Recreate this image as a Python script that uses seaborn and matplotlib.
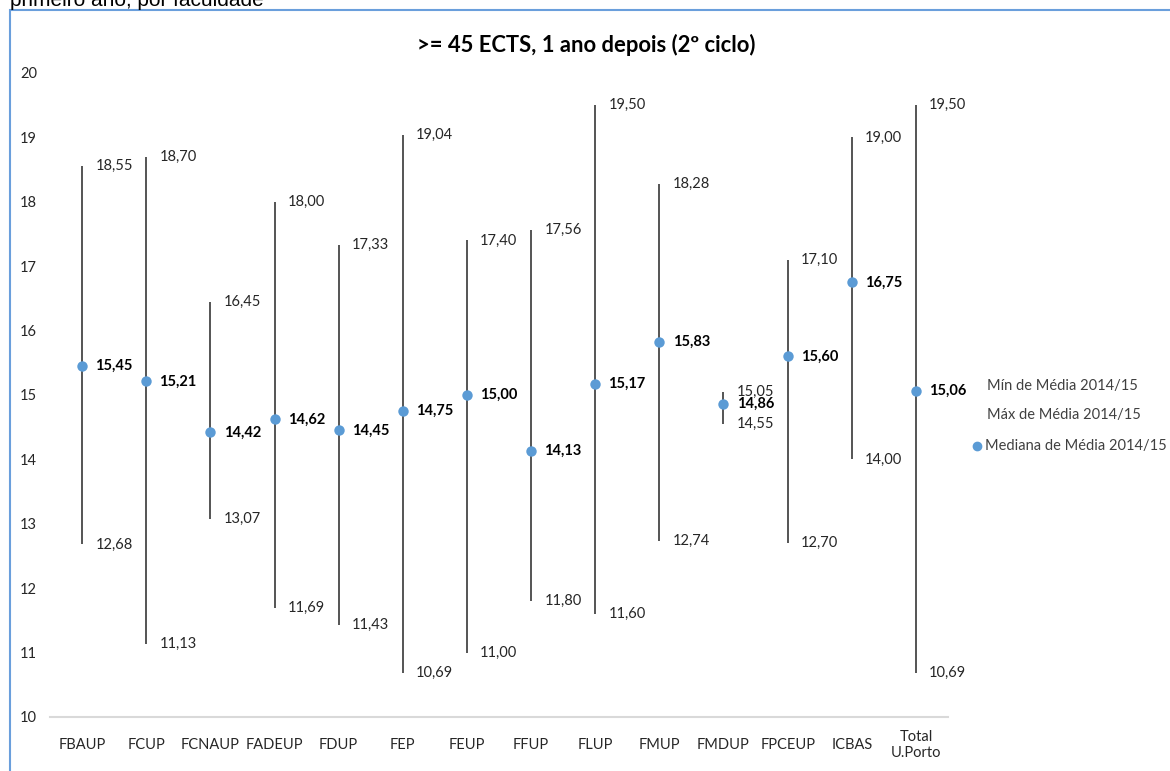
import matplotlib
matplotlib.use("Agg")
import matplotlib.pyplot as plt
import seaborn as sns
import pandas as pd
import numpy as np
from matplotlib.patches import Rectangle

categories = ["FBAUP", "FCUP", "FCNAUP", "FADEUP", "FDUP", "FEP", "FEUP", "FFUP",
              "FLUP", "FMUP", "FMDUP", "FPCEUP", "ICBAS", "Total\nU.Porto"]
max_vals = [18.55, 18.70, 16.45, 18.00, 17.33, 19.04, 17.40, 17.56, 19.50, 18.28, 15.05, 17.10, 19.00, 19.50]
min_vals = [12.68, 11.13, 13.07, 11.69, 11.43, 10.69, 11.00, 11.80, 11.60, 12.74, 14.55, 12.70, 14.00, 10.69]
med_vals = [15.45, 15.21, 14.42, 14.62, 14.45, 14.75, 15.00, 14.13, 15.17, 15.83, 14.86, 15.60, 16.75, 15.06]
yticks = [10, 11, 12, 13, 14, 15, 16, 17, 18, 19, 20]
title = ">= 45 ECTS, 1 ano depois (2º ciclo)"
legend_labels = ["Mín de Média 2014/15", "Máx de Média 2014/15", "Mediana de Média 2014/15"]

sns.set_theme(style="white")
plt.rcParams['font.family'] = ['Lato', 'DejaVu Sans']

df = pd.DataFrame({"cat": categories, "max": max_vals, "min": min_vals, "med": med_vals})

fig = plt.figure(figsize=(11.7, 7.71), dpi=100)
ax = fig.add_axes([50/1170, 1-717/771, 898/1170, (717-73)/771])

def fmt(v):
    return f"{v:.2f}".replace(".", ",")

FS = 10.5
pos = np.arange(len(categories))
ax.vlines(pos, df["min"], df["max"], color="#262626", linewidth=1.1, zorder=1)
sns.stripplot(data=df, x="cat", y="med", jitter=False, color="#5b9bd5", size=7.5,
              linewidth=0, ax=ax, zorder=3)

for i, r in df.iterrows():
    ax.annotate(fmt(r["max"]), (i, r["max"]), xytext=(9.5, 0), textcoords="offset points",
                va="center", ha="left", fontsize=FS, color="#262626")
    ax.annotate(fmt(r["min"]), (i, r["min"]), xytext=(9.5, 0), textcoords="offset points",
                va="center", ha="left", fontsize=FS, color="#262626")
    ax.annotate(fmt(r["med"]), (i, r["med"]), xytext=(9.5, 0), textcoords="offset points",
                va="center", ha="left", fontsize=FS, fontweight="bold", color="#000000")

ax.set_xlim(-0.5, len(categories) - 0.5)
ax.set_ylim(10, 20)
ax.set_yticks(yticks)
ax.set_yticklabels([str(t) for t in yticks], fontsize=FS, color="#262626")
ax.set_xticks(pos)
ax.set_xticklabels(categories, fontsize=FS, color="#262626", linespacing=1.15)
ax.tick_params(axis="x", length=0, pad=20)
ax.tick_params(axis="y", length=0, pad=21.5)
for lbl in ax.get_yticklabels():
    lbl.set_horizontalalignment("left")
for lbl in ax.get_xticklabels():
    lbl.set_verticalalignment("center")
ax.set_xlabel("")
ax.set_ylabel("")
for s in ["top", "right", "left"]:
    ax.spines[s].set_visible(False)
ax.spines["bottom"].set_color("#d9d9d9")
ax.spines["bottom"].set_linewidth(1.5)

fig.text(586/1170, 1-45/771, title, ha="center", va="center", fontsize=15.8,
         fontweight="bold", color="#000000")
fig.text(10/1170, 1-6/771, "primeiro ano, por faculdade", ha="left", va="baseline",
         fontsize=15, color="#000000", family=["Liberation Sans", "DejaVu Sans"])

# legend
fig.text(987/1170, 1-386/771, legend_labels[0], ha="left", va="center", fontsize=FS, color="#404040")
fig.text(987/1170, 1-415/771, legend_labels[1], ha="left", va="center", fontsize=FS, color="#404040")
fig.text(985/1170, 1-446/771, legend_labels[2], ha="left", va="center", fontsize=FS, color="#404040")
fig.add_artist(plt.Line2D([977/1170], [1-446/771], marker="o", color="#5b9bd5",
                          markersize=6, linestyle="none", transform=fig.transFigure))

fig.add_artist(Rectangle((9.5/1170, -0.05), 1.1, 1-10.5/771+0.05, transform=fig.transFigure,
                         fill=False, edgecolor="#6a9fdc", linewidth=1.5))

fig.savefig("out.png", dpi=100)
